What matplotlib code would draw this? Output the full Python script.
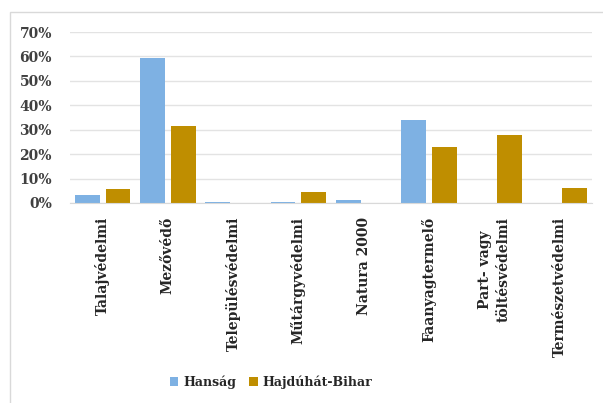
import numpy as np
import matplotlib
matplotlib.use('Agg')
import matplotlib.pyplot as plt
from matplotlib.patches import Rectangle
from matplotlib.ticker import FuncFormatter

categories = ['Talajvédelmi', 'Mezővédő', 'Településvédelmi', 'Műtárgyvédelmi',
              'Natura 2000', 'Faanyagtermelő', 'Part- vagy\ntöltésvédelmi',
              'Természetvédelmi']
hansag = [3.2, 59.4, 0.6, 0.6, 1.4, 33.9, 0.0, 0.0]
hajduhat = [5.6, 31.4, 0.0, 4.3, 0.0, 23.0, 28.0, 6.3]
series_names = ['Hanság', 'Hajdúhát-Bihar']
yticks = [0, 10, 20, 30, 40, 50, 60, 70]

plt.rcParams['font.family'] = ['DejaVu Serif']
plt.rcParams['font.weight'] = 'bold'

fig = plt.figure(figsize=(6.03, 4.03), dpi=100)
ax = fig.add_axes([70 / 603, 1 - 203 / 403, 522 / 603, 171 / 403])

# light frame around the chart area (cropped on right/bottom like the reference)
fig.patches.append(Rectangle((10 / 603, -0.05), 1.2, 1 - 12 / 403 + 0.05,
                             transform=fig.transFigure, fill=False,
                             edgecolor='#D9D9D9', linewidth=1.0))

x = np.arange(len(categories))
w = 0.38
ax.bar(x - 0.235, hansag, w, color='#7EB1E3', label=series_names[0])
ax.bar(x + 0.235, hajduhat, w, color='#BF8E00', label=series_names[1])

ax.set_xlim(-0.5, len(categories) - 0.5)
ax.set_ylim(0, 70)
ax.set_yticks(yticks)
ax.yaxis.set_major_formatter(FuncFormatter(lambda v, p: f'{int(v)}%'))
ax.grid(axis='y', color='#E3E3E3', linewidth=1.0)
ax.set_axisbelow(True)
for s in ['top', 'right', 'left']:
    ax.spines[s].set_visible(False)
ax.spines['bottom'].set_color('#D9D9D9')

ax.set_xticks(x)
ax.set_xticklabels(categories, rotation=90, va='top', ha='center',
                   fontsize=10, fontweight='bold', color='#262626',
                   multialignment='center', linespacing=1.4)
ax.tick_params(axis='x', length=0, pad=10)
ax.tick_params(axis='y', length=0, pad=13, labelsize=10, labelcolor='#404040')

fig.legend(loc='center', bbox_to_anchor=(271 / 603, 1 - 382 / 403), ncol=2,
           frameon=False, fontsize=9, handlelength=0.7, handleheight=0.7,
           columnspacing=1.0, handletextpad=0.4, labelcolor='#262626')

fig.savefig('out.png', dpi=100)
